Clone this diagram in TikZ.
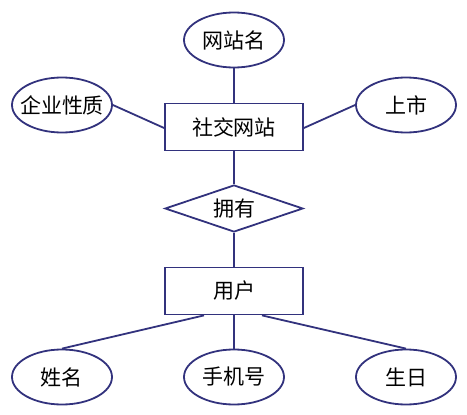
\documentclass[tikz,border=0pt]{standalone}
\usepackage{fontspec}
\setmainfont{Noto Sans CJK SC}
\usetikzlibrary{shapes.geometric}
\definecolor{navy}{RGB}{50,50,125}
\newcommand\zwbox[1]{\makebox[0pt]{#1}}
\begin{document}
\begin{tikzpicture}[x=1pt,y=-1pt,
  every node/.style={font=\fontsize{21}{24}\selectfont, text=black},
  attr/.style={ellipse, draw=navy, line width=1.8pt, minimum width=100pt, minimum height=55pt, inner sep=0pt},
  ent/.style={rectangle, draw=navy, line width=1.8pt, minimum width=138pt, minimum height=47pt, inner sep=0pt},
  rel/.style={diamond, draw=navy, line width=1.8pt, minimum width=138pt, minimum height=47pt, inner sep=0pt, aspect=2.9},
  conn/.style={draw=navy, line width=1.8pt}]
\useasboundingbox (0,0) rectangle (467,415);
\node[attr] (wzm) at (234,40) {\zwbox{网站名}};
\node[attr] (qyxz) at (62,105) {\zwbox{企业性质}};
\node[attr] (ss) at (406,105) {\zwbox{上市}};
\node[ent] (sj) at (234,127) {社交网站};
\node[rel] (yy) at (234,208.5) {拥有};
\node[ent] (yh) at (234,291) {用户};
\node[attr] (xm) at (62,377) {\zwbox{姓名}};
\node[attr] (sjh) at (234,377) {\zwbox{手机号}};
\node[attr] (sr) at (406,377) {\zwbox{生日}};
\draw[conn] (wzm) -- (sj);
\draw[conn] (qyxz.east) -- ([yshift=-1pt]sj.west);
\draw[conn] (ss.west) -- ([yshift=-1pt]sj.east);
\draw[conn] (sj) -- (yy);
\draw[conn] (yy) -- (yh);
\draw[conn] ([xshift=-30pt]yh.south) -- (xm.north);
\draw[conn] (yh) -- (sjh);
\draw[conn] ([xshift=28pt]yh.south) -- (sr.north);
\end{tikzpicture}
\end{document}
